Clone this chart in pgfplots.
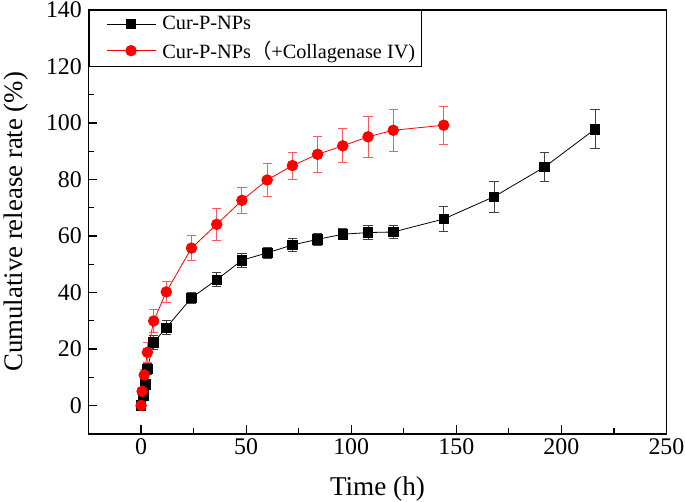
\documentclass[border=0pt]{standalone}
\usepackage{pgfplots}
\pgfplotsset{compat=1.18}
\usepackage{fontspec}
\setmainfont{Liberation Serif}
\newfontfamily\cjk{Noto Sans CJK SC}
\begin{document}
\begin{tikzpicture}
\begin{axis}[
  scale only axis,
  width=435.75pt, height=319.5pt,
  xmin=-25, xmax=250, ymin=-10, ymax=140,
  xtick={0,50,...,250}, ytick={0,20,...,140},
  minor xtick={-25,25,75,125,175,225},
  minor ytick={-10,10,...,130},
  tick align=inside,
  xtick pos=bottom, ytick pos=left,
  major tick length=6.5pt, minor tick length=4pt,
  every tick/.style={black, line width=0.9pt},
  axis line style={line width=1.3pt},
  /pgf/number format/assume math mode=true,
  tick label style={font=\fontsize{18}{20}\selectfont},
  yticklabel style={xshift=-1.5pt},
  xticklabel style={yshift=-0.5pt},
  label style={font=\fontsize{20.5}{22}\selectfont},
  xlabel={Time (h)},
  ylabel={Cumulative release rate (\%)},
  xlabel style={at={(axis description cs:0.5,-0.1293)}, anchor=center},
  ylabel style={at={(axis description cs:-0.1255,0.5)}, anchor=center, rotate=0, font=\fontsize{20.2}{22}\selectfont},
  legend style={at={(0,1)}, anchor=north west, draw=black, line width=0.6pt,
    font=\fontsize{15.3}{17}\selectfont, inner xsep=3pt, inner ysep=2.5pt,
    row sep=3pt, cells={anchor=west}},
  legend image code/.code={\path (0cm,0cm) (1.75cm,0cm);
    \draw[mark repeat=2,mark phase=2] plot coordinates {(0.35cm,0cm)(1.0cm,0cm)(1.65cm,0cm)};},
  clip=false,
]
\addplot[black, line width=0.6pt, mark=square*, mark size=3.6pt, mark options={solid, fill=black},
  error bars/.cd, y dir=both, y explicit,
  error bar style={black!75, line width=0.7pt},
  error mark options={rotate=90, mark size=3.5pt, black!75, line width=0.7pt}]
  table[x=t, y=v, y error=e] {
t v e
0 0 0
1 3.6 1
2 7.5 1.5
3 12.9 2
6 22.3 2.5
12 27.5 2.5
24 38.1 2
36 44.5 2.4
48 51.4 2.5
60 54.0 2
72 56.8 2.3
84 58.8 2.2
96 60.6 2
108 61.2 2.4
120 61.4 2.4
144 66.0 4.3
168 73.9 5.5
192 84.4 5.2
216 97.8 7
};
\addlegendentry{Cur-P-NPs}
\addplot[red, line width=0.6pt, mark=*, mark size=4pt, mark options={solid, fill=red},
  error bars/.cd, y dir=both, y explicit,
  error bar style={red!65, line width=0.7pt},
  error mark options={rotate=90, mark size=3.5pt, red!65, line width=0.7pt}]
  table[x=t, y=v, y error=e] {
t v e
0 0 0
0.5 5 1
1.5 10.8 2
3 18.8 3.5
6 29.9 4
12 40.2 3.8
24 55.7 4.5
36 64.1 5.7
48 72.6 4.6
60 79.8 5.7
72 84.9 4.8
84 88.9 6.4
96 91.9 6
108 95.1 7.3
120 97.4 7.5
144 99.2 6.8
};
\addlegendentry{Cur-P-NPs{\cjk （}+Collagenase IV)}
\end{axis}
\pgfresetboundingbox
\path (current axis.south west) ++(-66.75pt,-51pt) coordinate (bbA);
\path (current axis.north east) ++(14pt,7.5pt) coordinate (bbB);
\useasboundingbox (bbA) rectangle (bbB);
\end{tikzpicture}
\end{document}
